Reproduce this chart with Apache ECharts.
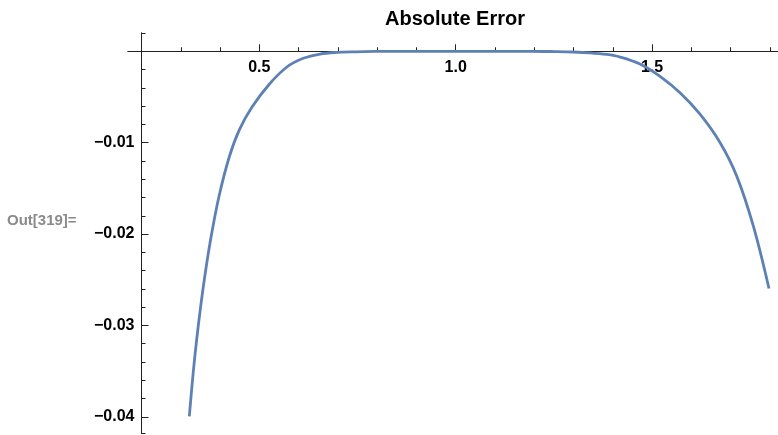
<!DOCTYPE html>
<html>
<head>
<meta charset="utf-8">
<script src="https://cdn.jsdelivr.net/npm/echarts@6/dist/echarts.min.js"></script>
<style>
html,body{margin:0;padding:0;background:#fff;}
#chart{width:778px;height:435px;}
</style>
</head>
<body>
<div id="chart"></div>
<script>
// ---- data ----
const titleText = "Absolute Error";
const outLabel = "Out[319]=";
const xValues = [0.3217, 0.3314, 0.3403, 0.3505, 0.3622, 0.3757, 0.3971, 0.4236, 0.4488, 0.4814,
                 0.5259, 0.5703, 0.6120, 0.6548, 0.6978, 0.7437, 0.7946, 0.8583, 0.9300, 1.0000,
                 1.0700, 1.1300, 1.1893, 1.2530, 1.2988, 1.3421, 1.3846, 1.4185, 1.4694, 1.5204,
                 1.5713, 1.6222, 1.6731, 1.7157, 1.7579, 1.7979];
const yValues = [-0.03994, -0.03526, -0.03162, -0.02797, -0.02431, -0.02067, -0.01592, -0.01154, -0.00862, -0.00610,
                 -0.00358, -0.00172, -0.00077, -0.00030, -0.00012, -0.000055, -0.00002, 0, 0, 0,
                 0, 0, 0, -0.000033, -0.000077, -0.00017, -0.00035, -0.00063, -0.00140, -0.00275,
                 -0.00454, -0.00689, -0.00999, -0.01366, -0.01911, -0.02596];
const xMajorTicks = [0.5, 1.0, 1.5];
const xMinorTicks = [0.2, 0.3, 0.4, 0.5, 0.6, 0.7, 0.8, 0.9, 1.0, 1.1, 1.2, 1.3, 1.4, 1.5, 1.6, 1.7, 1.8];
const yMajorTicks = [-0.04, -0.03, -0.02, -0.01];
const yMinorTicks = [0.002, 0, -0.002, -0.004, -0.006, -0.008, -0.01, -0.012, -0.014, -0.016, -0.018,
                     -0.02, -0.022, -0.024, -0.026, -0.028, -0.03, -0.032, -0.034, -0.036, -0.038, -0.04, -0.0418];
const xRange = [0.1656, 1.8208];
const yRange = [-0.0418, 0.002];

const data = xValues.map((x, i) => [x, yValues[i]]);

// layout
const W = 778, H = 435;
const gridTop = 33, gridBottom = 1.7, gridLeft = 128;
const plotH = H - gridTop - gridBottom;
const plotW = W - gridLeft;
const zeroY = gridTop + plotH * (yRange[1] - 0) / (yRange[1] - yRange[0]);
const xAxisOffset = -((H - gridBottom) - zeroY);       // move x axis up to y = 0
const yAxisOffset = -(plotW * (0.2 - xRange[0]) / (xRange[1] - xRange[0])); // move y axis right to x = 0.2

const axisColor = '#222';
const labelFont = {fontFamily: 'Liberation Sans, Arial, Helvetica, sans-serif', fontWeight: 'bold', fontSize: 16, color: '#000'};

const chart = echarts.init(document.getElementById('chart'), null, {renderer: 'canvas'});
chart.setOption({
  animation: false,
  backgroundColor: '#fff',
  grid: {left: gridLeft, right: 0, top: gridTop, bottom: gridBottom, containLabel: false, outerBoundsMode: 'none'},
  graphic: [
    {type: 'text', x: 455, y: 19, style: {text: titleText, textAlign: 'center', textVerticalAlign: 'middle',
      fontFamily: 'Liberation Sans, Arial, sans-serif', fontWeight: 'bold', fontSize: 20, fill: '#000'}},
    {type: 'text', x: 7, y: 221, style: {text: outLabel, textAlign: 'left', textVerticalAlign: 'middle',
      fontFamily: 'Liberation Sans, Arial, sans-serif', fontWeight: 'bold', fontSize: 15, fill: '#8a8a8a'}}
  ],
  xAxis: [
    {
      type: 'value', position: 'bottom', offset: xAxisOffset, min: xRange[0], max: xRange[1],
      axisLine: {show: true, onZero: false, lineStyle: {color: axisColor, width: 1}},
      axisTick: {show: true, inside: true, length: 7, customValues: xMajorTicks, lineStyle: {color: axisColor}},
      axisLabel: Object.assign({show: true, customValues: xMajorTicks, margin: 8,
        formatter: v => Number(v).toFixed(1)}, labelFont),
      splitLine: {show: false}
    },
    {
      type: 'value', position: 'bottom', offset: xAxisOffset, min: xRange[0], max: xRange[1],
      axisLine: {show: true, onZero: false, lineStyle: {color: axisColor, width: 1}},
      axisTick: {show: true, inside: true, length: 4, customValues: xMinorTicks, lineStyle: {color: axisColor}},
      axisLabel: {show: false},
      splitLine: {show: false}
    }
  ],
  yAxis: [
    {
      type: 'value', position: 'left', offset: yAxisOffset, min: yRange[0], max: yRange[1],
      axisLine: {show: true, onZero: false, lineStyle: {color: axisColor, width: 1}},
      axisTick: {show: true, inside: true, length: 7, customValues: yMajorTicks, lineStyle: {color: axisColor}},
      axisLabel: Object.assign({show: true, customValues: yMajorTicks, margin: 7,
        formatter: v => (v < 0 ? '\u2212' : '') + Math.abs(v).toFixed(2)}, labelFont),
      splitLine: {show: false}
    },
    {
      type: 'value', position: 'left', offset: yAxisOffset, min: yRange[0], max: yRange[1],
      axisLine: {show: true, onZero: false, lineStyle: {color: axisColor, width: 1}},
      axisTick: {show: true, inside: true, length: 4, customValues: yMinorTicks, lineStyle: {color: axisColor}},
      axisLabel: {show: false},
      splitLine: {show: false}
    }
  ],
  series: [{
    type: 'line',
    xAxisIndex: 0, yAxisIndex: 0,
    data: data,
    showSymbol: false,
    smooth: 0.35,
    lineStyle: {color: '#5E81B5', width: 2.8},
    z: 5
  }]
});
</script>
</body>
</html>
